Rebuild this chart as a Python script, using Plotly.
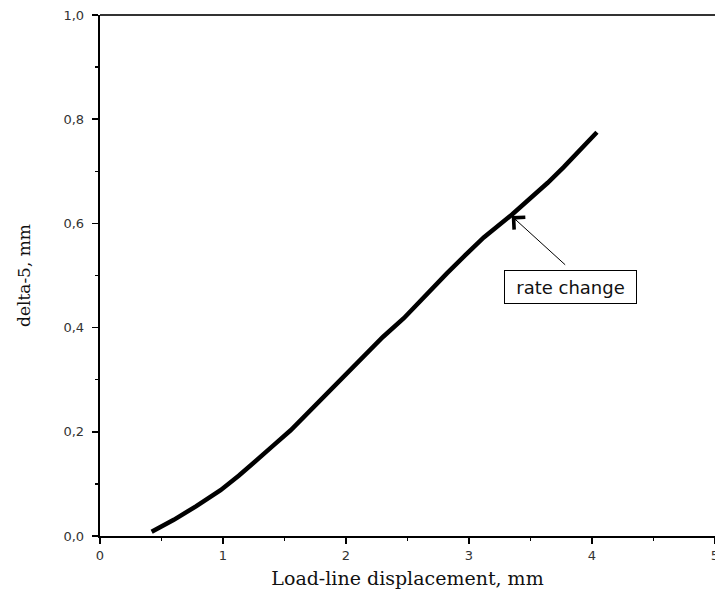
import plotly.graph_objects as go

# Data
x_disp = [0.42, 0.50, 0.60, 0.78, 0.98, 1.13, 1.27, 1.41, 1.55, 1.79, 2.00, 2.15,
          2.30, 2.47, 2.64, 2.82, 2.97, 3.12, 3.35, 3.51, 3.64, 3.77, 3.90, 4.04]
delta5 = [0.008, 0.018, 0.031, 0.057, 0.088, 0.116, 0.146, 0.174, 0.203, 0.260, 0.311, 0.347,
          0.382, 0.418, 0.461, 0.504, 0.539, 0.573, 0.617, 0.650, 0.678, 0.708, 0.740, 0.775]

x_ticks = [0, 1, 2, 3, 4, 5]
y_ticks = [0.0, 0.2, 0.4, 0.6, 0.8, 1.0]

arrow_head = (3.347, 0.614)
arrow_tail = (3.794, 0.518)
label_pos = (3.829, 0.4775)
label_text = "rate change"

fig = go.Figure()
fig.add_trace(go.Scatter(
    x=x_disp, y=delta5, mode="lines",
    line=dict(color="black", width=4.5),
    showlegend=False, hoverinfo="skip",
))

tick_font = dict(family="DejaVu Sans", size=13, color="#333333")

fig.update_layout(
    width=715, height=594,
    margin=dict(l=100, r=0, t=15, b=58, autoexpand=False),
    paper_bgcolor="white", plot_bgcolor="white",
    separators=",.",
    xaxis=dict(
        range=[0, 5], tickvals=x_ticks, tickformat="d",
        showgrid=False, zeroline=False,
        showline=True, linecolor="black", linewidth=2,
        ticks="outside", ticklen=6, tickwidth=1.5, tickcolor="black",
        minor=dict(dtick=0.5, ticks="outside", ticklen=3, tickwidth=1.5, tickcolor="black", showgrid=False),
        tickfont=tick_font, ticklabeloverflow="allow",
        title=dict(text="Load-line displacement, mm",
                   font=dict(family="DejaVu Serif", size=19, color="#111111"), standoff=10),
    ),
    yaxis=dict(
        range=[0, 1], tickvals=y_ticks, tickformat=".1f",
        showgrid=False, zeroline=False,
        showline=True, linecolor="black", linewidth=2.3,
        ticks="outside", ticklen=6, tickwidth=1.5, tickcolor="black",
        minor=dict(dtick=0.1, ticks="outside", ticklen=3, tickwidth=1.5, tickcolor="black", showgrid=False),
        tickfont=tick_font, ticklabelstandoff=5, ticklabeloverflow="allow",
        title=dict(text="delta-5, mm",
                   font=dict(family="DejaVu Serif", size=17, color="#111111"), standoff=29),
    ),
)

# top frame line
fig.add_shape(type="line", xref="paper", yref="paper", x0=0, x1=1, y0=1, y1=1,
              line=dict(color="#333333", width=2))

fig.add_annotation(
    x=arrow_head[0], y=arrow_head[1], ax=arrow_tail[0], ay=arrow_tail[1],
    xref="x", yref="y", axref="x", ayref="y",
    text="", showarrow=True, arrowhead=4, arrowsize=3.2, arrowwidth=1, arrowcolor="black",
)
fig.add_annotation(
    x=label_pos[0], y=label_pos[1], xref="x", yref="y",
    text=label_text, showarrow=False,
    font=dict(family="DejaVu Sans", size=18, color="#111111"),
    bordercolor="black", borderwidth=1, borderpad=0,
    width=131, height=32, bgcolor="white",
)

fig.write_html("out.html", config={"staticPlot": True})
